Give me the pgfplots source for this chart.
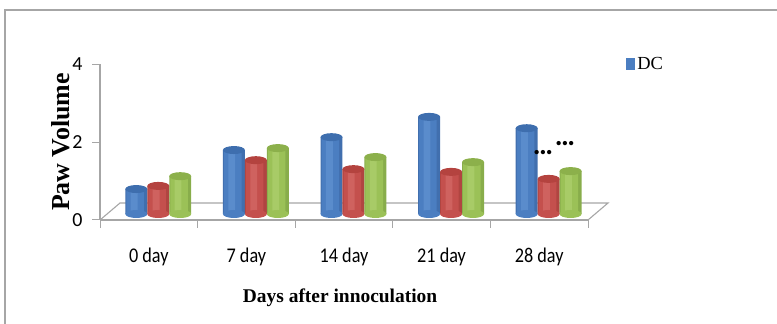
\documentclass[border=0pt]{standalone}
\usepackage{pgfplots}
\pgfplotsset{compat=1.18}
\usepackage{pgfplotstable}
\usepackage{fontspec}
\setmainfont{Liberation Serif}
\newfontfamily\carlito{Carlito}

% paw volume per group and day
\pgfplotstableread{
x dc   r    g
0 0.64 0.72 0.97
1 1.64 1.38 1.69
2 1.97 1.15 1.46
3 2.49 1.08 1.33
4 2.20 0.90 1.10
}\pawdata

\definecolor{blueedge}{HTML}{416FAE}
\definecolor{bluemid}{HTML}{4B7EC1}
\definecolor{bluelight}{HTML}{5A8CCC}
\definecolor{bluetop}{HTML}{3E6EAE}
\definecolor{rededge}{HTML}{B04541}
\definecolor{redmid}{HTML}{C4504D}
\definecolor{redlight}{HTML}{CF625F}
\definecolor{redtop}{HTML}{B4433F}
\definecolor{grnedge}{HTML}{88AD4B}
\definecolor{grnmid}{HTML}{9BC157}
\definecolor{grnlight}{HTML}{A8CB67}
\definecolor{grntop}{HTML}{8CB04B}
\definecolor{framegray}{HTML}{A6A6A6}

% elliptic cap of a cylinder
\pgfdeclareplotmark{cylcap}{%
  \pgfpathellipse{\pgfpointorigin}{\pgfqpoint{11bp}{0pt}}{\pgfqpoint{0pt}{4bp}}%
  \pgfusepathqfill}

\pgfplotsset{
  cyl/.style 2 args={ybar, bar width=#1, bar shift=0pt, draw=none, fill=#2,
    forget plot},
  cap/.style={only marks, mark=cylcap, mark options={fill=#1}, forget plot},
}

\begin{document}
\begin{tikzpicture}
\useasboundingbox (0,0) rectangle (777bp,324bp);
\draw[framegray, line width=1.5bp] (5bp,0) -- (5bp,314bp) -- (777bp,314bp);

% axes, ticks and floor
\begin{axis}[
  at={(100bp,104bp)}, anchor=south west,
  scale only axis, width=488bp, height=156bp,
  xmin=-0.5, xmax=4.5, ymin=0, ymax=4,
  clip=false,
  axis x line*=bottom, axis y line*=left,
  axis line style={draw=framegray, line width=1.1bp, -},
  tick align=outside, major tick length=8bp,
  tick style={draw=framegray, line width=1bp},
  ytick={0,2,4},
  xtick={0,...,4},
  xticklabels={0 day,7 day,14 day,21 day,28 day},
  xtick style={draw=none},
  extra x ticks={-0.5,0.5,1.5,2.5,3.5,4.5},
  extra x tick labels={},
  extra x tick style={xtick style={draw=framegray, line width=1bp}},
  /pgf/number format/assume math mode=true,
  yticklabel style={font=\carlito\fontsize{20}{20}\selectfont, xshift=-6bp},
  xticklabel style={font=\carlito\fontsize{21}{21}\selectfont, xscale=0.87, yshift=-16bp},
  xlabel={\bfseries Days after innoculation},
  xlabel style={font=\fontsize{19.5}{19.5}\selectfont, at={(axis description cs:0.492,-0.497)}, anchor=center},
  ylabel={\bfseries Paw Volume},
  ylabel style={font=\fontsize{26}{26}\selectfont, at={(axis description cs:-0.080,0.5)}, anchor=center},
]
\draw[framegray, line width=1.1bp] (axis cs:-0.5,0) -- (axis cs:-0.295,0.436)
  -- (axis cs:4.705,0.436) -- (axis cs:4.5,0);
\end{axis}

% cylinders
\begin{axis}[
  at={(100bp,110bp)}, anchor=south west,
  scale only axis, width=488bp, height=156bp,
  xmin=-0.5, xmax=4.5, ymin=0, ymax=4,
  clip=false, hide axis,
  legend style={at={(axis description cs:1.078,0.962)}, anchor=west,
    draw=none, fill=none, inner sep=0pt,
    font=\fontsize{18.5}{18.5}\selectfont},
  legend cell align=left,
]
% DC
\addplot[cap=bluemid] table[x expr=\thisrow{x}-0.128, y expr=0] {\pawdata};
\addplot[ybar, bar width=0.225, bar shift=0pt, draw=none, fill=blueedge,
  legend image code/.code={\fill[bluemid] (0bp,-6bp) rectangle (9bp,6bp);}]
  table[x expr=\thisrow{x}-0.128, y=dc] {\pawdata};
\addlegendentry{DC}
\addplot[cyl={0.18}{bluemid}] table[x expr=\thisrow{x}-0.14, y=dc] {\pawdata};
\addplot[cyl={0.07}{bluelight}] table[x expr=\thisrow{x}-0.15, y=dc] {\pawdata};
\addplot[cap=bluetop] table[x expr=\thisrow{x}-0.128, y=dc] {\pawdata};
% second group
\addplot[cap=redmid] table[x expr=\thisrow{x}+0.097, y expr=0] {\pawdata};
\addplot[cyl={0.225}{rededge}] table[x expr=\thisrow{x}+0.097, y=r] {\pawdata};
\addplot[cyl={0.18}{redmid}] table[x expr=\thisrow{x}+0.085, y=r] {\pawdata};
\addplot[cyl={0.07}{redlight}] table[x expr=\thisrow{x}+0.075, y=r] {\pawdata};
\addplot[cap=redtop] table[x expr=\thisrow{x}+0.097, y=r] {\pawdata};
% third group
\addplot[cap=grnmid] table[x expr=\thisrow{x}+0.322, y expr=0] {\pawdata};
\addplot[cyl={0.225}{grnedge}] table[x expr=\thisrow{x}+0.322, y=g] {\pawdata};
\addplot[cyl={0.18}{grnmid}] table[x expr=\thisrow{x}+0.31, y=g] {\pawdata};
\addplot[cyl={0.07}{grnlight}] table[x expr=\thisrow{x}+0.30, y=g] {\pawdata};
\addplot[cap=grntop] table[x expr=\thisrow{x}+0.322, y=g] {\pawdata};
% significance marks
\node[font=\fontsize{18}{18}\selectfont, inner sep=0pt] at (axis cs:4.04,1.53) {•••};
\node[font=\fontsize{18}{18}\selectfont, inner sep=0pt] at (axis cs:4.265,1.76) {•••};
\end{axis}
\end{tikzpicture}
\end{document}
